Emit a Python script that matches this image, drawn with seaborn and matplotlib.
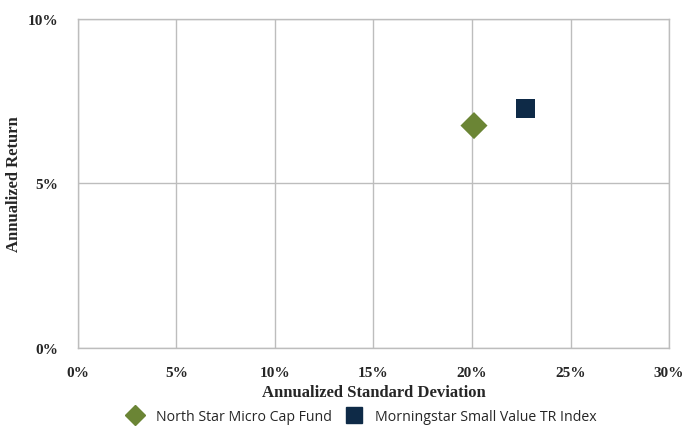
import numpy as np
import matplotlib
matplotlib.use("Agg")
import matplotlib.pyplot as plt
import seaborn as sns
import pandas as pd
from matplotlib.ticker import FuncFormatter

names = ["North Star Micro Cap Fund", "Morningstar Small Value TR Index"]
std_dev = [20.1, 22.7]
returns = [6.75, 7.27]
colors = ["#6b8535", "#0e2a47"]
markers = ["D", "s"]

df = pd.DataFrame({"name": names, "std": std_dev, "ret": returns})

sns.set_style("white")
plt.rcParams["font.family"] = ["Liberation Serif", "DejaVu Serif"]

fig = plt.figure(figsize=(6.98, 4.27), dpi=100)
ax = fig.add_axes([0.1117, 0.1827, 0.8468, 0.7716])

sns.scatterplot(data=df, x="std", y="ret", hue="name", style="name",
                palette=colors, markers=markers, s=190, ax=ax,
                edgecolor="none", legend=False)

ax.set_xlim(0, 30)
ax.set_ylim(0, 10)
ax.set_xticks(np.arange(0, 31, 5))
ax.set_yticks([0, 5, 10])
ax.xaxis.set_major_formatter(FuncFormatter(lambda v, p: f"{v:.0f}%"))
ax.yaxis.set_major_formatter(FuncFormatter(lambda v, p: f"{v:.0f}%"))
ax.grid(True, color="#bdbdbd", linewidth=1)
for s in ax.spines.values():
    s.set_color("#bdbdbd")
    s.set_linewidth(1)
ax.tick_params(axis="both", length=0, labelsize=11)
ax.tick_params(axis="x", pad=13)
ax.tick_params(axis="y", pad=14)
for lbl in ax.get_xticklabels() + ax.get_yticklabels():
    lbl.set_fontweight("bold")

ax.set_xlabel("Annualized Standard Deviation", fontsize=12, fontweight="bold", labelpad=0)
ax.set_ylabel("Annualized Return", fontsize=12, fontweight="bold")
ax.yaxis.set_label_coords(-0.095, 0.5)
ax.xaxis.set_label_coords(0.5, -0.108)

handles = [plt.Line2D([], [], marker=m, color=c, linestyle="", markersize=ms)
           for m, c, ms in zip(markers, colors, [10, 12])]
fig.legend(handles, names, loc="center", bbox_to_anchor=(0.514, 0.023), ncol=2,
           frameon=False, prop={"family": "Open Sans", "size": 10.2},
           handletextpad=0.5, columnspacing=0.5)

fig.savefig("out.png", dpi=100)
